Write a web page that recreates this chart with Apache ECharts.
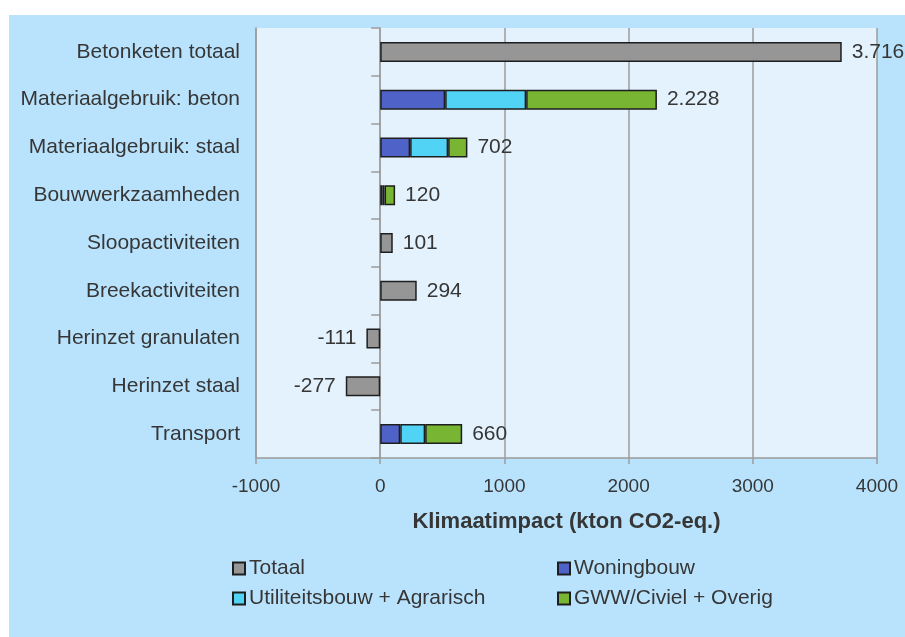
<!DOCTYPE html>
<html>
<head>
<meta charset="utf-8">
<script src="https://cdn.jsdelivr.net/npm/echarts@6/dist/echarts.min.js"></script>
<style>
  html, body { margin: 0; padding: 0; background: #ffffff; }
  #bg { position: absolute; left: 9px; top: 15px; width: 896px; height: 622px; background: #b9e3fc; }
  #main { position: absolute; left: 0; top: 0; width: 905px; height: 637px; }
</style>
</head>
<body>
<div id="bg"></div>
<div id="main"></div>
<script>
// categorieen (van boven naar beneden)
var categories = ['Betonketen totaal', 'Materiaalgebruik: beton', 'Materiaalgebruik: staal',
    'Bouwwerkzaamheden', 'Sloopactiviteiten', 'Breekactiviteiten',
    'Herinzet granulaten', 'Herinzet staal', 'Transport'];
// waarden in kton CO2-eq.
var totaal     = [3716, null, null, null, 101, 294, -111, -277, null];
var woningbouw = [null, 523, 241, 20, null, null, null, null, 161];
var utiliteit  = [null, 652, 306, 15, null, null, null, null, 201];
var gww        = [null, 1053, 155, 85, null, null, null, null, 298];
var xTicks = [-1000, 0, 1000, 2000, 3000, 4000];

var fontName = 'Liberation Sans';
var txtColor = '#363636';
var gridColor = '#9c9c9c';

function fmt(v) {
    // punt als duizendtal-scheiding
    var s = String(Math.abs(v));
    if (s.length > 3) s = s.slice(0, s.length - 3) + '.' + s.slice(s.length - 3);
    return (v < 0 ? '-' : '') + s;
}

function rowSum(i) {
    return (woningbouw[i] || 0) + (utiliteit[i] || 0) + (gww[i] || 0);
}

var labelStyle = {
    show: true,
    color: txtColor,
    fontFamily: fontName,
    fontSize: 21,
    distance: 10
};

var myChart = echarts.init(document.getElementById('main'));

var option = {
    backgroundColor: 'transparent',
    animation: false,
    textStyle: { fontFamily: fontName },
    grid: {
        left: 256,
        right: 28,
        top: 28,
        bottom: 179,
        show: true,
        backgroundColor: '#e3f2fd',
        borderWidth: 0
    },
    xAxis: {
        type: 'value',
        min: xTicks[0],
        max: xTicks[xTicks.length - 1],
        interval: 1000,
        name: 'Klimaatimpact (kton CO2-eq.)',
        nameLocation: 'middle',
        nameGap: 53,
        nameTextStyle: { color: txtColor, fontSize: 22, fontWeight: 'bold', fontFamily: fontName },
        axisLine: { show: true, lineStyle: { color: gridColor, width: 1.5 } },
        axisTick: { show: true, length: 6, lineStyle: { color: gridColor, width: 1.5 } },
        axisLabel: {
            color: txtColor, fontSize: 19, margin: 19, fontFamily: fontName,
            formatter: function (v) { return String(v); }
        },
        splitLine: { show: true, lineStyle: { color: gridColor, width: 1.5 } }
    },
    yAxis: [
        {
            type: 'category',
            data: categories,
            inverse: true,
            position: 'left',
            axisLine: { show: true, onZero: false, lineStyle: { color: gridColor, width: 1.5 } },
            axisTick: { show: false },
            axisLabel: { color: txtColor, fontSize: 21, margin: 16, fontFamily: fontName }
        },
        {
            type: 'category',
            data: categories,
            inverse: true,
            position: 'left',
            axisLine: { show: true, onZero: true, lineStyle: { color: gridColor, width: 1.5 } },
            axisTick: { show: true, length: 9, lineStyle: { color: gridColor, width: 1.5 } },
            axisLabel: { show: false }
        }
    ],
    legend: [
        {
            data: ['Totaal', 'Utiliteitsbouw + Agrarisch'],
            orient: 'vertical',
            left: 227,
            top: 553,
            itemWidth: 12,
            itemHeight: 12,
            itemGap: 9,
            icon: 'rect',
            textStyle: { color: txtColor, fontSize: 21, fontFamily: fontName, padding: [0, 0, 0, -1] }
        },
        {
            data: ['Woningbouw', 'GWW/Civiel + Overig'],
            orient: 'vertical',
            left: 552,
            top: 553,
            itemWidth: 12,
            itemHeight: 12,
            itemGap: 9,
            icon: 'rect',
            textStyle: { color: txtColor, fontSize: 21, fontFamily: fontName, padding: [0, 0, 0, -1] }
        }
    ],
    series: [
        {
            name: 'Totaal',
            type: 'bar',
            stack: 'impact',
            barWidth: 20,
            itemStyle: { color: '#969696', borderColor: '#1e1e1e', borderWidth: 1.5 },
            label: Object.assign({}, labelStyle, {
                position: 'right',
                formatter: function (p) { return fmt(p.value); }
            }),
            data: totaal.map(function (v) {
                if (v === null) return null;
                if (v < 0) return { value: v, label: { position: 'left' } };
                return v;
            })
        },
        {
            name: 'Woningbouw',
            type: 'bar',
            stack: 'impact',
            barWidth: 20,
            itemStyle: { color: '#4f62c7', borderColor: '#1e1e1e', borderWidth: 1.5 },
            data: woningbouw
        },
        {
            name: 'Utiliteitsbouw + Agrarisch',
            type: 'bar',
            stack: 'impact',
            barWidth: 20,
            itemStyle: { color: '#50d3f4', borderColor: '#1e1e1e', borderWidth: 1.5 },
            data: utiliteit
        },
        {
            name: 'GWW/Civiel + Overig',
            type: 'bar',
            stack: 'impact',
            barWidth: 20,
            itemStyle: { color: '#77b533', borderColor: '#1e1e1e', borderWidth: 1.5 },
            label: Object.assign({}, labelStyle, {
                position: 'right',
                formatter: function (p) { return fmt(rowSum(p.dataIndex)); }
            }),
            data: gww
        }
    ]
};

myChart.setOption(option);
</script>
</body>
</html>
